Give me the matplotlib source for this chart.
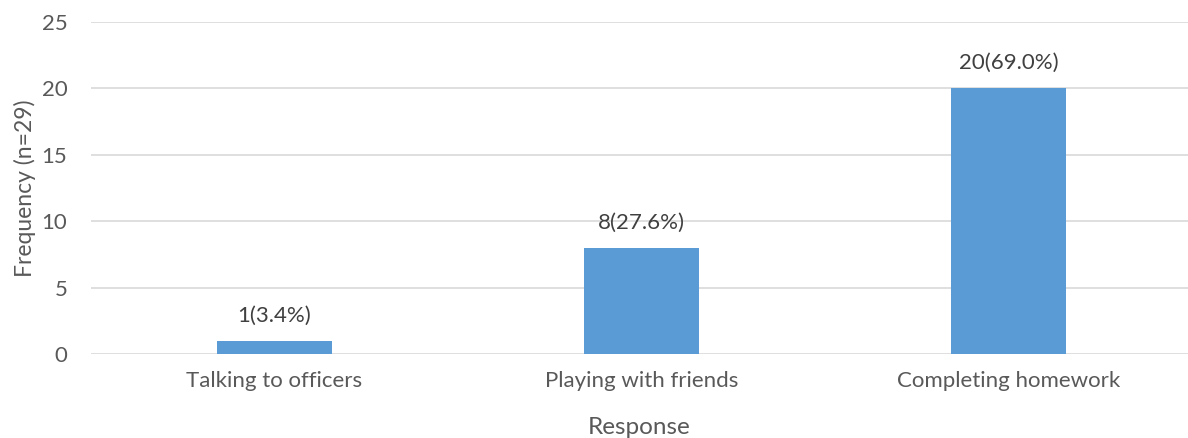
import matplotlib
matplotlib.use("Agg")
import matplotlib.pyplot as plt

categories = ["Talking to officers", "Playing with friends", "Completing homework"]
counts = [1, 8, 20]
labels = ["1(3.4%)", "8(27.6%)", "20(69.0%)"]
yticks = [0, 5, 10, 15, 20, 25]

plt.rcParams['font.family'] = ['Lato', 'DejaVu Sans']

W, H = 1188, 438
fig = plt.figure(figsize=(W/100, H/100), dpi=100)
ax = fig.add_axes([91/W, (H-354)/H, (W-91)/W, (354-22)/H])

x = list(range(len(categories)))
bars = ax.bar(x, counts, width=0.313, color="#5b9bd5", zorder=3)
for xi, c, lab in zip(x, counts, labels):
    ax.annotate(lab, (xi, c), xytext=(0, 11), textcoords="offset points",
                ha="center", va="bottom", fontsize=16, color="#404040")

ax.set_xlim(-0.5, -0.5 + 1097/367)
ax.set_ylim(0, 25)
ax.set_yticks(yticks)
ax.set_xticks(x)
ax.set_xticklabels(categories)
ax.tick_params(axis="both", length=0, labelsize=16, colors="#595959")
ax.tick_params(axis="x", pad=12)
ax.tick_params(axis="y", pad=17)
ax.grid(axis="y", color="#d9d9d9", linewidth=1.2, zorder=0)
for s in ax.spines.values():
    s.set_visible(False)

ax.set_ylabel("Frequency (n=29)", fontsize=16.5, color="#595959", labelpad=4)
ax.set_xlabel("Response", fontsize=17.5, color="#595959", labelpad=19)

fig.savefig("out.png", dpi=100)
